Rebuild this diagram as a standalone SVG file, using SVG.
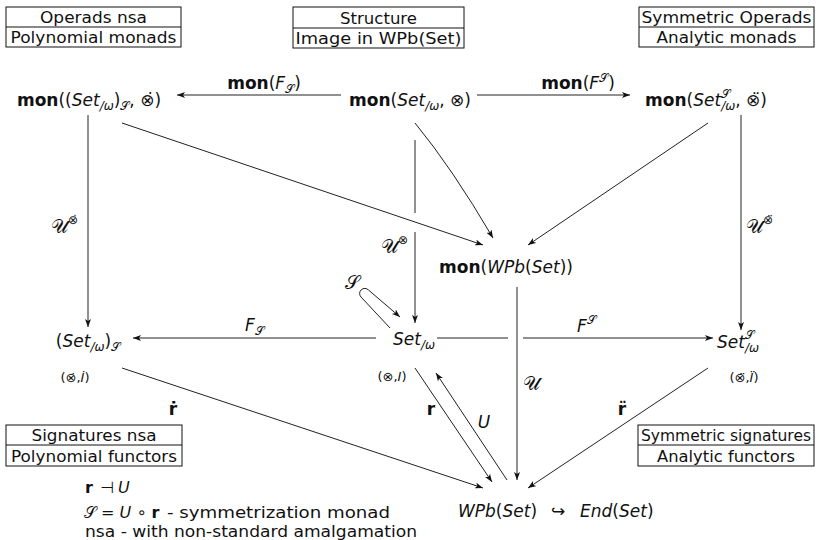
<svg xmlns="http://www.w3.org/2000/svg" width="823" height="540" viewBox="0 0 823 540">
<style>
.t{font-family:"DejaVu Sans","Noto Sans",sans-serif;font-size:17px;fill:#111}
.bx{font-family:"DejaVu Sans","Noto Sans",sans-serif;font-size:16.5px;fill:#111}
.nt{font-family:"DejaVu Sans","Noto Sans",sans-serif;font-size:16px;fill:#111}
.b{font-weight:bold}
.i{font-style:italic}
.s{font-size:12px}
.sm{font-size:13px}
.cal{font-size:19px}
.ln{stroke:#222;stroke-width:1;fill:none}
.ar{stroke:#222;stroke-width:1;fill:none;marker-end:url(#ah)}
.frame{fill:none;stroke:#111;stroke-width:1}
</style>
<defs>
<marker id="ah" markerWidth="8" markerHeight="6" refX="8" refY="3" orient="auto" markerUnits="userSpaceOnUse"><path d="M0,0 L8,3 L0,6 L2,3 z" fill="#111"/></marker>
</defs>
<rect width="823" height="540" fill="#fff"/>

<g id="box-operads">
<rect class="frame" x="6" y="7" width="175" height="40"/><line class="frame" x1="6" y1="27" x2="181" y2="27"/>
<text class="bx" x="93.5" y="23" text-anchor="middle" textLength="107" lengthAdjust="spacingAndGlyphs">Operads nsa</text>
<text class="bx" x="93.5" y="43" text-anchor="middle" textLength="166" lengthAdjust="spacingAndGlyphs">Polynomial monads</text>
</g>
<g id="box-structure">
<rect class="frame" x="293" y="7" width="171" height="41"/><line class="frame" x1="293" y1="28" x2="464" y2="28"/>
<text class="bx" x="378.5" y="24" text-anchor="middle" textLength="77" lengthAdjust="spacingAndGlyphs">Structure</text>
<text class="bx" x="378.5" y="44" text-anchor="middle" textLength="166" lengthAdjust="spacingAndGlyphs">Image in WPb(Set)</text>
</g>
<g id="box-symmetric">
<rect class="frame" x="639" y="7" width="175" height="40"/><line class="frame" x1="639" y1="27" x2="814" y2="27"/>
<text class="bx" x="726.5" y="23" text-anchor="middle" textLength="170" lengthAdjust="spacingAndGlyphs">Symmetric Operads</text>
<text class="bx" x="726.5" y="43" text-anchor="middle" textLength="140" lengthAdjust="spacingAndGlyphs">Analytic monads</text>
</g>
<g id="box-signatures">
<rect class="frame" x="6" y="425" width="176" height="41"/><line class="frame" x1="6" y1="445" x2="182" y2="445"/>
<text class="bx" x="94" y="441" text-anchor="middle" textLength="125" lengthAdjust="spacingAndGlyphs">Signatures nsa</text>
<text class="bx" x="94" y="462" text-anchor="middle" textLength="166" lengthAdjust="spacingAndGlyphs">Polynomial functors</text>
</g>
<g id="box-symsig">
<rect class="frame" x="638" y="425" width="176" height="41"/><line class="frame" x1="638" y1="445" x2="814" y2="445"/>
<text class="bx" x="726" y="441" text-anchor="middle" textLength="170" lengthAdjust="spacingAndGlyphs">Symmetric signatures</text>
<text class="bx" x="726" y="462" text-anchor="middle" textLength="138" lengthAdjust="spacingAndGlyphs">Analytic functors</text>
</g>

<g id="connectors">
<line class="ar" x1="341" y1="95" x2="177" y2="95"/>
<line class="ar" x1="477" y1="95" x2="630" y2="95"/>
<line class="ar" x1="88" y1="115" x2="88" y2="327"/>
<line class="ln" x1="415" y1="140" x2="415" y2="213"/>
<line class="ar" x1="415" y1="232" x2="415" y2="323"/>
<line class="ar" x1="741" y1="115" x2="741" y2="330"/>
<line class="ar" x1="122" y1="123" x2="483" y2="245"/>
<path class="ar" d="M415,123 Q452,168 493,238"/>
<line class="ar" x1="708" y1="123" x2="528" y2="245"/>
<line class="ar" x1="517" y1="287" x2="517" y2="480"/>
<line class="ar" x1="376" y1="338" x2="133" y2="338"/>
<line class="ln" x1="437" y1="338" x2="508" y2="338"/>
<line class="ar" x1="523" y1="338" x2="713" y2="338"/>
<path class="ar" d="M390,328 L361,297 A5,5 0 0 1 368.5,290 L400,317"/>
<line class="ar" x1="122" y1="368" x2="483" y2="488"/>
<line class="ar" x1="415" y1="368" x2="492" y2="482"/>
<line class="ar" x1="507" y1="480" x2="436" y2="373"/>
<line class="ar" x1="708" y1="368" x2="528" y2="488"/>
</g>

<g id="labels">
<text class="t" x="264" y="89" text-anchor="middle"><tspan class="b">mon</tspan>(<tspan class="i">F</tspan><tspan class="s" dy="4">𝒮</tspan><tspan dy="-4">)</tspan></text>
<text class="t" x="578" y="89" text-anchor="middle"><tspan class="b">mon</tspan>(<tspan class="i">F</tspan><tspan class="s" dy="-7">𝒮</tspan><tspan dy="7">)</tspan></text>
<text class="t" x="51" y="233"><tspan class="cal">𝒰</tspan><tspan class="s" dy="-9">⊗̇</tspan></text>
<text class="t" x="381" y="253"><tspan class="cal">𝒰</tspan><tspan class="s" dy="-9">⊗</tspan></text>
<text class="t" x="746" y="233"><tspan class="cal">𝒰</tspan><tspan class="s" dy="-9">⊗̈</tspan></text>
<text class="t cal" x="523" y="390">𝒰</text>
<text class="t" x="245" y="331"><tspan class="i">F</tspan><tspan class="s" dy="4">𝒮</tspan></text>
<text class="t" x="577" y="332"><tspan class="i">F</tspan><tspan class="s" dy="-8">𝒮</tspan></text>
<text class="t cal" x="345" y="289">𝒮</text>
<text class="t b" x="173" y="415" text-anchor="middle">ṙ</text>
<text class="t b" x="431" y="415" text-anchor="middle">r</text>
<text class="t i" x="484" y="428" text-anchor="middle">U</text>
<text class="t b" x="622" y="415" text-anchor="middle">r̈</text>
</g>

<g id="node-mon-set-s">
<text class="t" x="89" y="106" text-anchor="middle"><tspan class="b">mon</tspan>((<tspan class="i">Set</tspan><tspan class="s i" dy="4">/ω</tspan><tspan dy="-4">)</tspan><tspan class="s" dy="4">𝒮</tspan><tspan dy="-4">, ⊗̇)</tspan></text>
</g>
<g id="node-mon-set">
<text class="t" x="410" y="106" text-anchor="middle"><tspan class="b">mon</tspan>(<tspan class="i">Set</tspan><tspan class="s i" dy="4">/ω</tspan><tspan dy="-4">, ⊗)</tspan></text>
</g>
<g id="node-mon-set-sym">
<text class="t" x="706" y="106" text-anchor="middle"><tspan class="b">mon</tspan>(<tspan class="i">Set</tspan><tspan class="s" dy="-8">𝒮</tspan><tspan class="s i" dx="-9" dy="12">/ω</tspan><tspan dy="-4">, ⊗̈)</tspan></text>
</g>
<g id="node-mon-wpb">
<text class="t" x="506" y="273" text-anchor="middle"><tspan class="b">mon</tspan>(<tspan class="i">WPb</tspan>(<tspan class="i">Set</tspan>))</text>
</g>
<g id="node-set-s">
<text class="t" x="88" y="347" text-anchor="middle">(<tspan class="i">Set</tspan><tspan class="s i" dy="4">/ω</tspan><tspan dy="-4">)</tspan><tspan class="s" dy="4">𝒮</tspan></text>
<text class="t sm" x="75" y="382" text-anchor="middle">(⊗̇,<tspan class="i">İ</tspan>)</text>
</g>
<g id="node-set">
<text class="t" x="414" y="345" text-anchor="middle"><tspan class="i">Set</tspan><tspan class="s i" dy="4">/ω</tspan></text>
<text class="t sm" x="392" y="381" text-anchor="middle">(⊗,<tspan class="i">I</tspan>)</text>
</g>
<g id="node-set-sym">
<text class="t" x="717" y="348"><tspan class="i">Set</tspan><tspan class="s" dy="-9">𝒮</tspan><tspan class="s i" dx="-9" dy="13">/ω</tspan></text>
<text class="t sm" x="744" y="382" text-anchor="middle">(⊗̈,<tspan class="i">Ï</tspan>)</text>
</g>
<g id="node-wpb">
<text class="t" y="517"><tspan class="i" x="458">WPb</tspan>(<tspan class="i">Set</tspan>)<tspan x="551">↪</tspan><tspan class="i" x="580">End</tspan>(<tspan class="i">Set</tspan>)</text>
</g>

<g id="notes">
<text class="nt" y="493"><tspan class="b" x="85">r</tspan><tspan x="100">⊣</tspan><tspan class="i" x="118">U</tspan></text>
<text class="nt" x="84" y="518">𝒮 = <tspan class="i">U</tspan> ∘ <tspan class="b">r</tspan></text>
<text class="nt" x="167" y="518" textLength="223" lengthAdjust="spacingAndGlyphs">- symmetrization monad</text>
<text class="nt" x="85" y="537" textLength="332" lengthAdjust="spacingAndGlyphs">nsa - with non-standard amalgamation</text>
</g>
</svg>
